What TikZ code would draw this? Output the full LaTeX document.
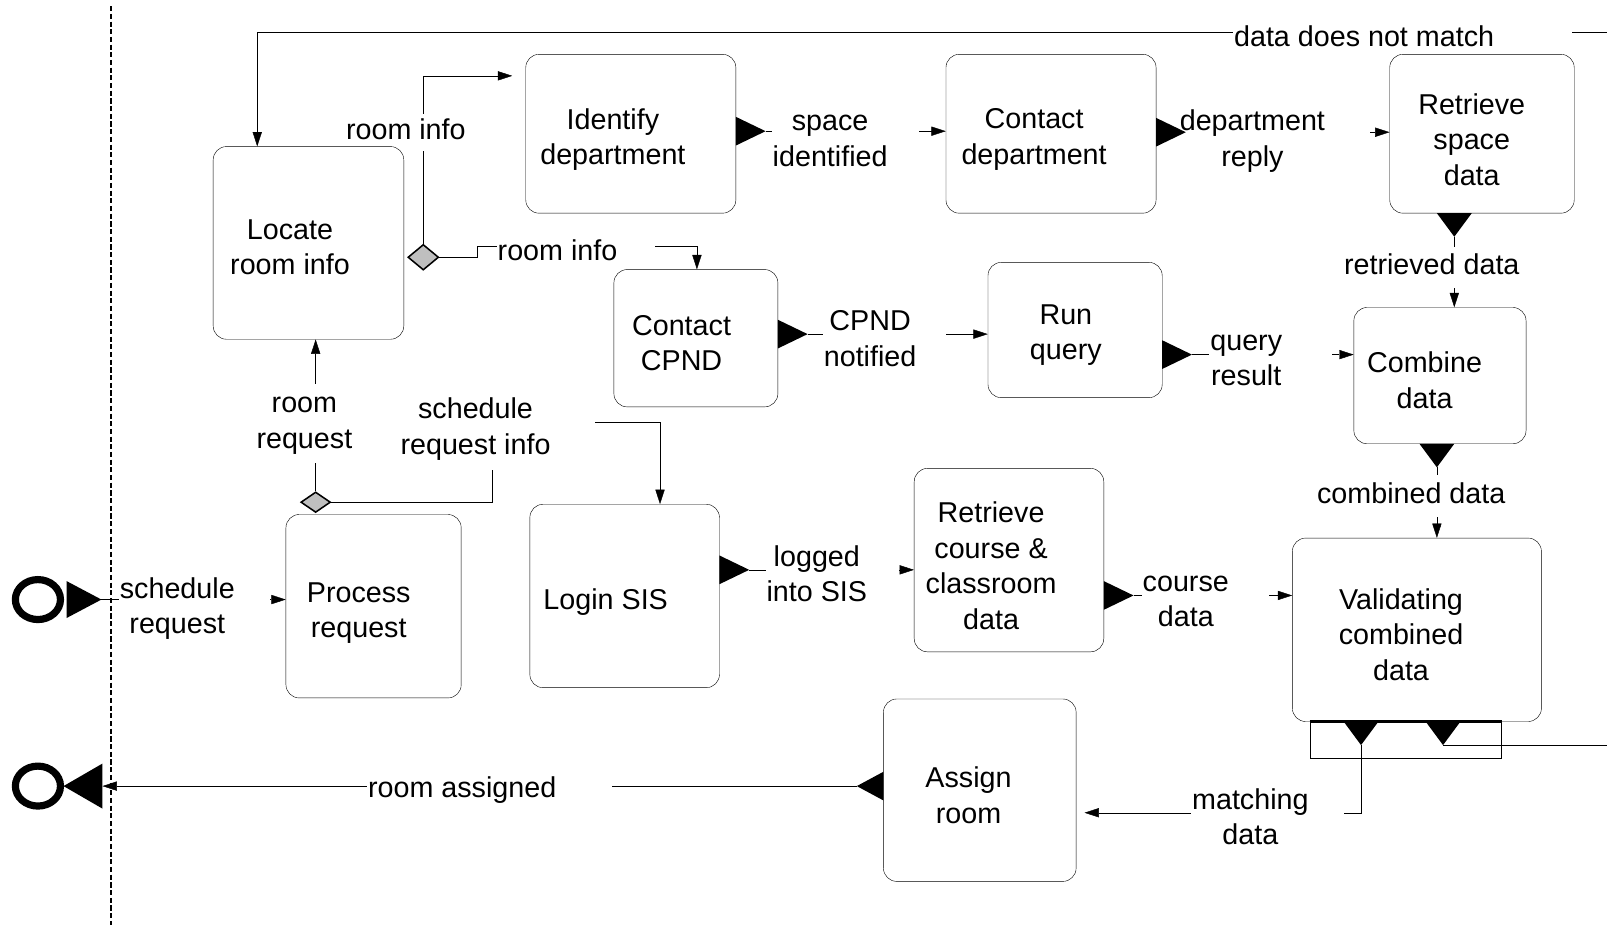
\documentclass[tikz,border=0pt]{standalone}
\usepackage{fontspec}
\setmainfont{Liberation Sans}
\usetikzlibrary{shapes.geometric,arrows.meta}
\pgfdeclarelayer{bg}
\pgfdeclarelayer{conn}
\pgfdeclarelayer{labs}
\pgfsetlayers{bg,conn,labs,main}
\newcommand\LB[2]{\begin{tabular}{@{}c@{}}#1\end{tabular}\hspace*{#2pt}}
% output triangles: east, south, west
\newcommand\fE[2]{\fill (#1,#2-14) -- (#1+29,#2) -- (#1,#2+14) -- cycle;}
\newcommand\fS[2]{\fill (#1-17,#2) -- (#1,#2+23) -- (#1+17,#2) -- cycle;}
\newcommand\fW[2]{\fill (#1,#2-14) -- (#1-26,#2) -- (#1,#2+14) -- cycle;}
\begin{document}
\begin{tikzpicture}[x=1pt,y=-1pt,
  font=\fontsize{28}{34.5}\selectfont,
  line width=2.1pt,
  box/.style={draw, rounded corners=13pt, inner sep=0pt},
  txt/.style={align=center, inner sep=0pt},
  lab/.style={fill=white, inner sep=1pt},
  arr/.style={-{Triangle[length=14pt,width=9pt]}},
  gate/.style={diamond, draw, fill=black!25, inner sep=0pt, line width=1.5pt},
  ev/.style={ellipse, draw, line width=7pt, inner sep=0pt, minimum width=44pt, minimum height=39pt}]
\useasboundingbox (0,0) rectangle (1568,903);
\begin{pgfonlayer}{bg}
  \fill[white] (0,0) rectangle (1568,903);
\end{pgfonlayer}
\clip (0,0) rectangle (1568,903);

% lane boundary
\draw[line width=2pt, dash pattern=on 5pt off 2.5pt] (108,6) -- (108,903);

% triangle tip coordinates
\coordinate (t1) at (747,128);
\coordinate (t2) at (1157,129);
\coordinate (t3) at (1419,231);
\coordinate (t4) at (788,326);
\coordinate (t5) at (1163,346);
\coordinate (t6) at (1402,456);
\coordinate (t7) at (731,556);
\coordinate (t8) at (1106,581);
\coordinate (t9) at (836,767);
\coordinate (t10) at (1328,727);
\coordinate (t11) at (1408,727);
\coordinate (startT) at (99,585);
\coordinate (endB) at (100,767);

% events
\node[ev] (start) at (37,585) {};
\fill (65,567) -- (startT) -- (65,603) -- cycle;
\node[ev] (end) at (37,767) {};
\fill (endB) ++(0,-22) -- (62,767) -- (100,789) -- cycle;

% boxes
\node[box, minimum width=186pt, minimum height=188pt] (locate) at (301,237) {};
\node[txt] (locate-t) at (283,241) {Locate\\room info};
\node[box, minimum width=205pt, minimum height=155pt] (identify) at (615.5,130.5) {};
\node[txt] (identify-t) at (598,136) {Identify\\department};
\node[box, minimum width=205pt, minimum height=155pt] (cdept) at (1025.5,130.5) {};
\node[txt] (cdept-t) at (1009,136) {Contact\\department};
\node[box, minimum width=180pt, minimum height=155pt] (rspace) at (1446,130.5) {};
\node[txt] (rspace-t) at (1436,136) {Retrieve\\space\\data};
\node[box, minimum width=160pt, minimum height=134pt] (cpnd) at (679,330) {};
\node[txt] (cpnd-t) at (665,335) {Contact\\CPND};
\node[box, minimum width=170pt, minimum height=132pt] (run) at (1049,322) {};
\node[txt] (run-t) at (1040,327) {Run\\query};
\node[box, minimum width=168pt, minimum height=133pt] (combine) at (1405,366.5) {};
\node[txt] (combine-t) at (1390,371) {Combine\\data};
\node[box, minimum width=171pt, minimum height=179pt] (process) at (364.5,591.5) {};
\node[txt] (process-t) at (350,598) {Process\\request};
\node[box, minimum width=185pt, minimum height=179pt] (login) at (609.5,581.5) {};
\node[txt] (login-t) at (591,587) {Login SIS};
\node[box, minimum width=185pt, minimum height=179pt] (rcourse) at (984.5,546.5) {};
\node[txt] (rcourse-t) at (967,552) {Retrieve\\course \&\\classroom\\data};
\node[box, minimum width=243pt, minimum height=179pt] (valid) at (1382.5,614.5) {};
\node[txt] (valid-t) at (1367,619) {Validating\\combined\\data};
\node[box, minimum width=188pt, minimum height=178pt] (assign) at (956,771) {};
\node[txt] (assign-t) at (945,776) {Assign\\room};

% output bar under validating
\node[draw, minimum width=187pt, minimum height=36pt, inner sep=0pt] (vbar) at (1371.5,722) {};
\draw[line width=3.5pt] (vbar.north west) -- (vbar.north east);

% gateways
\node[gate, minimum width=30pt, minimum height=25pt] (ldiam) at (413,251) {};
\node[gate, minimum width=29pt, minimum height=20pt] (pdiam) at (308,490) {};

% bend coordinates
\coordinate (sriA) at (480,412);
\coordinate (sriB) at (644,412);
\coordinate (riA) at (413,74);
\coordinate (ri2A) at (466,240);
\coordinate (ri2B) at (680,240);
\coordinate (mA) at (1328,793);
\coordinate (nmA) at (1600,31);
\coordinate (nmB) at (251,31);

% connectors
\begin{pgfonlayer}{conn}
\draw[arr] (startT) -- (process.west |- startT);
\draw[arr] (pdiam.north) -- (locate.south -| pdiam.north);
\draw[arr] (pdiam.east) -| (sriA) -- (sriB) -- (login.north -| sriB);
\draw[arr, shorten >=13pt] (ldiam.north) |- (identify.west |- riA);
\draw[arr] (ldiam.east) -| (ri2A) -- (ri2B) -- (cpnd.north -| ri2B);
\draw[arr] (t1) -- (cdept.west |- t1);
\draw[arr] (t2) -- (rspace.west |- t2);
\draw[arr] (t3) -- (combine.north -| t3);
\draw[arr] (t4) -- (run.west |- t4);
\draw[arr] (t5) -- (combine.west |- t5);
\draw[arr] (t6) -- (valid.north -| t6);
\draw[arr] (t7) -- (rcourse.west |- t7);
\draw[arr] (t8) -- (valid.west |- t8);
\draw[arr, shorten >=8pt] (t10) -- (mA) -- (assign.east |- mA);
\draw[arr] (t11) -| (nmA) -- (nmB) -- (locate.north -| nmB);
\draw[arr] (t9) -- (endB);
\end{pgfonlayer}

% labels
\begin{pgfonlayer}{labs}
\node[lab] (l-sched) at (189.5,594) {\LB{schedule\\request}{33}};
\node[lab, inner ysep=4pt] (l-rreq) at (297,413) {\LB{room\\request}{0}};
\node[lab, inner ysep=5pt] (l-sri) at (485,419) {\LB{schedule\\request info}{42}};
\node[lab] (l-ri1) at (396,129) {\LB{room info}{0}};
\node[lab] (l-ri2) at (562,247) {\LB{room info}{36}};
\node[lab] (l-spid) at (825,138) {\LB{space\\identified}{30}};
\node[lab] (l-dept) at (1243.5,138) {\LB{department\\reply}{43}};
\node[lab, inner ysep=3pt] (l-retr) at (1397,261) {\LB{retrieved data}{0}};
\node[lab] (l-cpnd) at (863,333) {\LB{CPND\\notified}{28}};
\node[lab] (l-qres) at (1240,352) {\LB{query\\result}{48}};
\node[lab, inner ysep=3pt] (l-comb) at (1377,484) {\LB{combined data}{0}};
\node[lab] (l-log) at (812,563) {\LB{logged\\into SIS}{30}};
\node[lab] (l-course) at (1176,587) {\LB{course\\data}{38}};
\node[lab] (l-match) at (1237,800) {\LB{matching\\data}{34}};
\node[lab] (l-assigned) at (477.5,771) {\LB{room assigned}{53}};
\node[lab] (l-nomatch) at (1368.5,38) {\LB{data does not match}{75}};
\end{pgfonlayer}

% output triangles
\fE{718}{128}
\fE{1128}{129}
\fS{1419}{208}
\fE{759}{326}
\fE{1134}{346}
\fS{1402}{433}
\fE{702}{556}
\fE{1077}{581}
\fW{862}{767}
\fS{1328}{704}
\fS{1408}{704}
\end{tikzpicture}
\end{document}
